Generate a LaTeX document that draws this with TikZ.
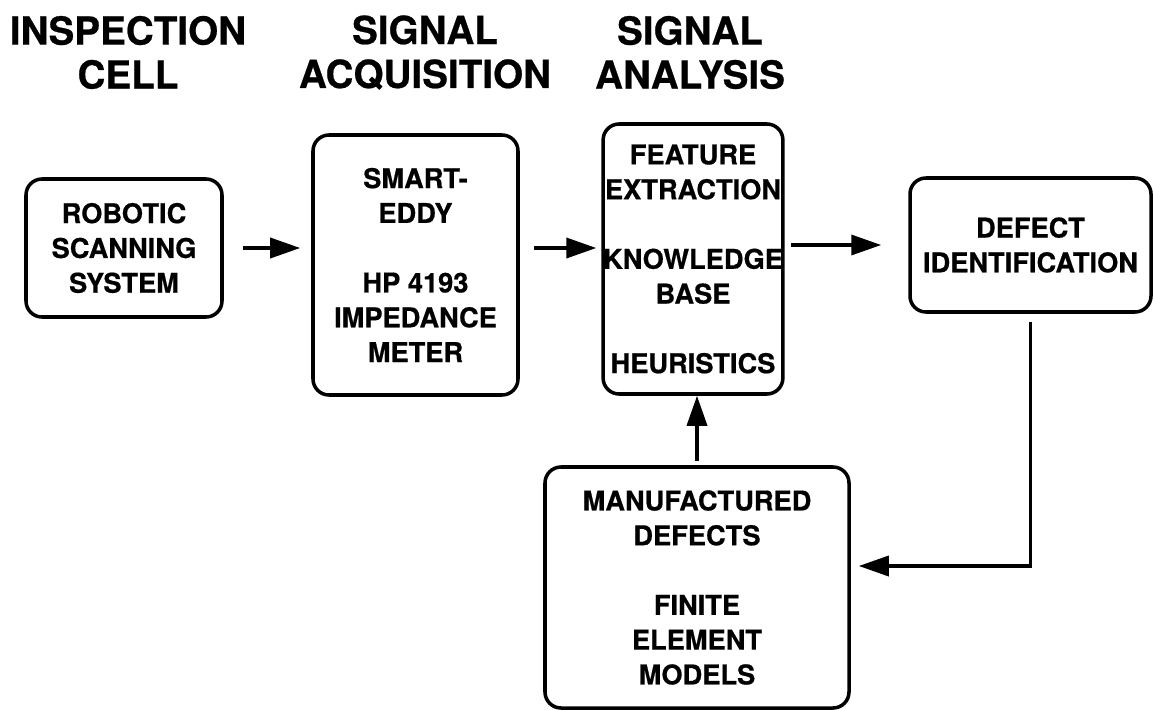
\documentclass[tikz,border=0pt]{standalone}
\usepackage{fontspec}
\setmainfont{TeX Gyre Heros}[BoldFeatures={FakeBold=0.6}]
\usetikzlibrary{arrows.meta}

\begin{document}
\begin{tikzpicture}[
  box/.style={draw, line width=2pt, rounded corners=0.32cm, align=center, inner sep=0pt,
              font=\fontsize{15.5}{19.8}\selectfont\bfseries},
  head/.style={align=center, inner sep=0pt, font=\fontsize{22}{25}\selectfont\bfseries},
  arr/.style={-{Triangle[length=0.6cm,width=0.4cm]}, line width=2pt}]
\useasboundingbox (0,0) rectangle (23.06,-14.2);
%
             \node [head] at (2.56,-1.05) (cell) {INSPECTION\\CELL};
             \node [head] at (8.5,-1.05) (acq) {SIGNAL\\ACQUISITION};
             \node [head] at (13.8,-1.05) (ana) {SIGNAL\\ANALYSIS};
%
             \node [box, minimum width=3.92cm, minimum height=2.76cm] at (2.48,-4.96) (robot)
                   {ROBOTIC\\SCANNING\\SYSTEM};
             \node [box, minimum width=4.10cm, minimum height=5.20cm] at (8.31,-5.30) (eddy)
                   {SMART-\\EDDY\\[19.8pt]HP 4193\\IMPEDANCE\\METER};
             \node [box, minimum width=3.44cm, minimum height=5.40cm] at (13.86,-5.18) (feat)
                   {FEATURE\\EXTRACTION\\[19.8pt]KNOWLEDGE\\BASE\\[19.8pt]HEURISTICS};
             \node [box, minimum width=6.08cm, minimum height=4.82cm] at (13.94,-11.75) (manuf)
                   {MANUFACTURED\\DEFECTS\\[19.8pt]FINITE\\ELEMENT\\MODELS};
             \node [box, minimum width=4.82cm, minimum height=2.68cm] at (20.61,-4.90) (defect)
                   {DEFECT\\IDENTIFICATION};
%
\draw[arr, shorten <=0.38cm, shorten >=0.22cm] (robot.east) -- (robot.east -| eddy.west);
\draw[arr, shorten <=0.28cm, shorten >=0.1cm] (eddy.east |- robot.east) -- (feat.west |- robot.east);
\draw[arr, shorten <=0.12cm, shorten >=0.54cm] (feat.east |- defect.west) -- (defect.west);
\draw[arr, shorten <=0.08cm] (manuf.north) -- (manuf.north |- feat.south);
\draw[arr, shorten <=0.16cm, shorten >=0.16cm] (defect.south) |- ([yshift=0.43cm]manuf.east);
\end{tikzpicture}
\end{document}
